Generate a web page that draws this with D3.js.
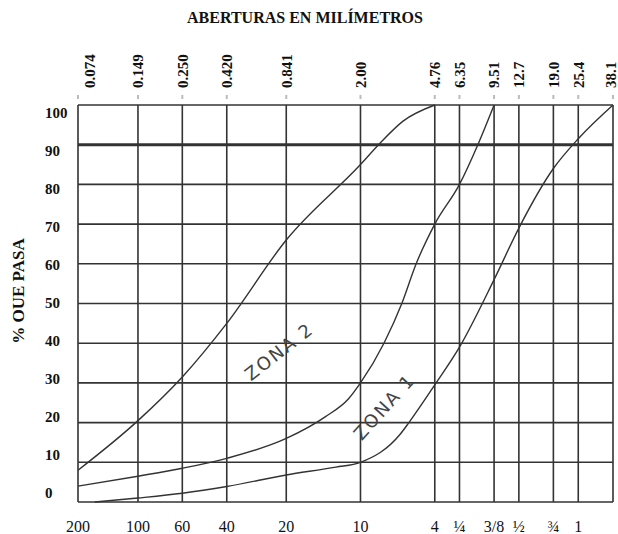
<!doctype html>
<html>

<head>
    <meta charset="utf-8">
    <title>zonas granulometricas</title>
    <script src="https://d3js.org/d3.v7.min.js"></script>
</head>

<style>
    body { margin: 0; background: #fff; }
    .serif { font-family: "Liberation Serif", "Times New Roman", serif; fill: #111; }
    .bold { font-weight: bold; }
    .zona { font-family: "DejaVu Sans", sans-serif; fill: #444; }
</style>

<body>

    <script>

    // sieve openings (mm), top labels and sieve names along the bottom
    var sieveMm = [0.074, 0.149, 0.250, 0.420, 0.841, 2.00, 4.76, 6.35, 9.51, 12.7, 19.0, 25.4, 38.1];
    var mmLabels = ['0.074', '0.149', '0.250', '0.420', '0.841', '2.00', '4.76', '6.35', '9.51', '12.7', '19.0', '25.4', '38.1'];
    var sieveNames = ['200', '100', '60', '40', '20', '10', '4', '\u00BC', '3/8', '\u00BD', '\u00BE', '1', ''];
    var pctTicks = [0, 10, 20, 30, 40, 50, 60, 70, 80, 90, 100];

    // curve: upper limit of zona 2
    var upperSize = [0.074, 0.149, 0.250, 0.420, 0.841, 2.00, 2.47, 3.30, 4.76];
    var upperPct  = [8, 20.5, 31.5, 45, 66, 85, 90, 96, 100];

    // shared limit between zona 2 and zona 1
    var middleSize = [0.074, 0.149, 0.250, 0.420, 0.841, 1.33, 1.74, 2.00, 2.63, 3.24, 3.83, 4.76, 6.35, 7.87, 9.51];
    var middlePct  = [4, 6.5, 8.5, 11, 16, 21.5, 26, 30, 40, 50, 60, 70, 80, 90, 100];

    // lower limit of zona 1
    var lowerSize = [0.09, 0.149, 0.250, 0.420, 0.841, 1.50, 2.00, 3.17, 3.52, 4.76, 6.35, 9.51, 12.7, 19.0, 25.4, 38.1];
    var lowerPct  = [0, 1, 2.2, 3.9, 6.8, 8.8, 10, 17, 20, 29.5, 39, 56, 69, 84, 91.5, 100];

    var canvasWidth = 618;
    var canvasHeight = 534;

    var svg = d3.select('body')
                .append('svg')
                .attr('width', canvasWidth)
                .attr('height', canvasHeight);

    var x = d3.scaleLog()
              .domain([0.074, 38.1])
              .range([78, 613]);

    var y = d3.scaleLinear()
              .domain([0, 100])
              .range([502, 105]);

    // the printed % numbers sit on a slightly tighter pitch than the grid
    var yText = d3.scaleLinear()
                  .domain([0, 100])
                  .range([493, 113]);

    // keep the end labels inside the sheet
    function labelX(d) {
        return Math.max(90, Math.min(canvasWidth - 7, x(d)));
    }

    // title
    svg.append('text')
       .attr('class', 'serif bold')
       .attr('x', 305)
       .attr('y', 23)
       .attr('text-anchor', 'middle')
       .style('font-size', '16px')
       .text('ABERTURAS EN MILÍMETROS');

    // vertical grid
    svg.append('g')
       .selectAll('line')
       .data(sieveMm)
       .enter()
       .append('line')
       .attr('x1', function(d) { return x(d); })
       .attr('x2', function(d) { return x(d); })
       .attr('y1', y(0))
       .attr('y2', y(100))
       .attr('stroke', '#333')
       .attr('stroke-width', 1.6);

    // little marks above the frame
    svg.append('g')
       .selectAll('line')
       .data(sieveMm)
       .enter()
       .append('line')
       .attr('x1', function(d) { return x(d); })
       .attr('x2', function(d) { return x(d); })
       .attr('y1', y(100) - 10)
       .attr('y2', y(100) - 6)
       .attr('stroke', '#bbb')
       .attr('stroke-width', 2);

    // horizontal grid, the 90 line is drawn heavier
    svg.append('g')
       .selectAll('line')
       .data(pctTicks)
       .enter()
       .append('line')
       .attr('x1', x(0.074))
       .attr('x2', x(38.1))
       .attr('y1', function(d) { return y(d); })
       .attr('y2', function(d) { return y(d); })
       .attr('stroke', '#333')
       .attr('stroke-width', function(d) { return d === 90 ? 3 : 1.6; });

    // top labels (mm)
    svg.append('g')
       .selectAll('text')
       .data(sieveMm)
       .enter()
       .append('text')
       .attr('class', 'serif bold')
       .attr('transform', function(d) { return 'translate(' + labelX(d) + ', 88) rotate(-90)'; })
       .attr('dy', '0.35em')
       .style('font-size', '15px')
       .text(function(d, i) { return mmLabels[i]; });

    // bottom labels (sieve names)
    svg.append('g')
       .selectAll('text')
       .data(sieveMm)
       .enter()
       .append('text')
       .attr('class', 'serif')
       .attr('x', function(d) { return x(d); })
       .attr('y', 532)
       .attr('text-anchor', 'middle')
       .style('font-size', '16px')
       .text(function(d, i) { return sieveNames[i]; });

    // % labels
    svg.append('g')
       .selectAll('text')
       .data(pctTicks)
       .enter()
       .append('text')
       .attr('class', 'serif bold')
       .attr('x', 45)
       .attr('y', function(d) { return yText(d); })
       .attr('dy', '0.35em')
       .style('font-size', '15px')
       .text(function(d) { return d; });

    // y axis title
    svg.append('text')
       .attr('class', 'serif bold')
       .attr('transform', 'translate(24, 291) rotate(-90)')
       .attr('text-anchor', 'middle')
       .style('font-size', '17px')
       .text('% OUE PASA');

    // limit curves
    var line = d3.line()
                 .x(function(d) { return x(d[0]); })
                 .y(function(d) { return y(d[1]); })
                 .curve(d3.curveMonotoneX);

    var curves = [d3.zip(upperSize, upperPct), d3.zip(middleSize, middlePct), d3.zip(lowerSize, lowerPct)];

    svg.append('g')
       .selectAll('path')
       .data(curves)
       .enter()
       .append('path')
       .attr('d', line)
       .attr('fill', 'none')
       .attr('stroke', '#333')
       .attr('stroke-width', 1.4);

    // zone names
    svg.append('text')
       .attr('class', 'zona')
       .attr('transform', 'translate(' + x(0.774) + ', ' + y(37.9) + ') rotate(-38)')
       .attr('text-anchor', 'middle')
       .attr('dy', '0.35em')
       .style('font-size', '18px')
       .style('letter-spacing', '2px')
       .text('ZONA 2');

    svg.append('text')
       .attr('class', 'zona')
       .attr('transform', 'translate(' + x(2.64) + ', ' + y(24) + ') rotate(-48)')
       .attr('text-anchor', 'middle')
       .attr('dy', '0.35em')
       .style('font-size', '18px')
       .style('letter-spacing', '2px')
       .text('ZONA 1');

    </script>

</body>

</html>
